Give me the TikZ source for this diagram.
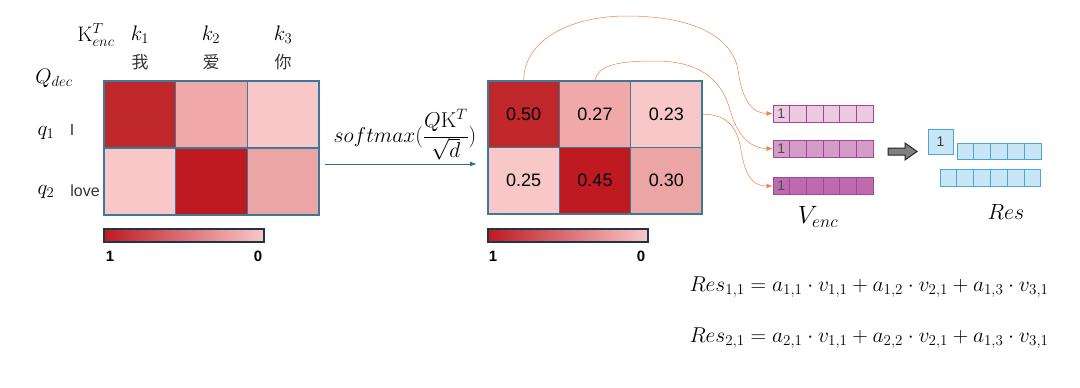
\RequirePackage{fix-cm}
\documentclass[tikz,border=0pt]{standalone}
\usepackage{fontspec}
\usetikzlibrary{arrows.meta}
\newfontfamily\arial{Liberation Sans}
\newfontfamily\cjk{Noto Sans CJK SC}
\definecolor{dra}{HTML}{C0272B}
\definecolor{drb}{HTML}{BF1A22}
\definecolor{pka}{HTML}{F1A8A8}
\definecolor{pkb}{HTML}{F8C8C9}
\definecolor{pkc}{HTML}{EBA5A5}
\definecolor{gridb}{HTML}{3E7899}
\definecolor{arrb}{HTML}{2F6F96}
\definecolor{cbb}{HTML}{1F3444}
\definecolor{orng}{HTML}{EE8148}
\definecolor{vb}{HTML}{A1479B}
\definecolor{vfa}{HTML}{EBC9E1}
\definecolor{vfb}{HTML}{D69CC8}
\definecolor{vfc}{HTML}{BD6BAD}
\definecolor{rb}{HTML}{4AA6D6}
\definecolor{rf}{HTML}{C8E6F5}
\begin{document}
\begin{tikzpicture}[x=1pt,y=-1pt,
  cellL/.style={draw=gridb, line width=1.2pt, minimum width=71.67pt, minimum height=67pt, inner sep=0pt},
  cellR/.style={draw=gridb, line width=1.2pt, minimum width=71.33pt, minimum height=66.5pt, inner sep=0pt, font=\arial\fontsize{18}{20}\selectfont},
  cbar/.style={draw=cbb, line width=1.5pt, minimum width=160pt, minimum height=13pt, inner sep=0pt, left color=drb, right color=pkb},
  cblab/.style={font=\arial\bfseries\fontsize{15}{17}\selectfont},
  mlab/.style={font=\fontsize{21}{24}\selectfont},
  zh/.style={font=\cjk\fontsize{17}{19}\selectfont, text=black!80},
  wlab/.style={font=\arial\fontsize{16}{18}\selectfont, text=black!80},
  vcell/.style={draw=vb, line width=1pt, minimum width=16.67pt, minimum height=17pt, inner sep=0pt, font=\arial\fontsize{14}{15}\selectfont, text=black!70},
  rcell/.style={draw=rb, line width=1pt, inner sep=0pt, fill=rf, font=\arial\fontsize{14}{15}\selectfont, text=black!75},
  curve/.style={draw=orng, line width=0.5pt, -{Latex[length=6pt,width=5pt]}},
  eq/.style={anchor=west, font=\fontsize{21.5}{24}\selectfont}
]
\useasboundingbox (0,0) rectangle (1080,388);
% left matrix
\foreach \r/\c/\col in {1/1/dra,1/2/pka,1/3/pkb,2/1/pkb,2/2/drb,2/3/pkc}{
  \node[cellL, fill=\col] (L-\r-\c) at ({104+71.67*(\c-0.5)},{81+67*(\r-0.5)}) {};
}
% right matrix
\foreach \r/\c/\col/\v in {1/1/dra/0.50,1/2/pka/0.27,1/3/pkb/0.23,2/1/pkb/0.25,2/2/drb/0.45,2/3/pkc/0.30}{
  \node[cellR, fill=\col] (R-\r-\c) at ({488+71.33*(\c-0.5)},{81+66.5*(\r-0.5)}) {\v};
}
% colour bars
\node[cbar] (cb1) at (184,235.5) {};
\node[cblab] (cb1a) at (110,256) {1};
\node[cblab] (cb1b) at (258,256) {0};
\node[cbar] (cb2) at (568,235.5) {};
\node[cblab] (cb2a) at (493,256) {1};
\node[cblab] (cb2b) at (641,256) {0};
% labels left
\node[mlab] (kt) at (96,35) {$\mathrm{K}_{enc}^{T}$};
\node[mlab] (k1) at (140,35) {$k_1$};
\node[mlab] (k2) at (211,35) {$k_2$};
\node[mlab] (k3) at (283,35) {$k_3$};
\node[zh] (z1) at (140,62) {我};
\node[zh] (z2) at (211,62) {爱};
\node[zh] (z3) at (283,62) {你};
\node[mlab] (qd) at (54,78) {$Q_{dec}$};
\node[mlab] (q1) at (46,133) {$q_1$};
\node[wlab] (w1) at (72,130) {I};
\node[mlab] (q2) at (46,192) {$q_2$};
\node[wlab] (w2) at (85,191) {love};
% softmax arrow
\coordinate (a0) at (325,164);
\coordinate (a1) at (477,164);
\draw[arrb, line width=1pt, -{Latex[length=7pt,width=5pt]}] (a0) -- (a1);
\node[mlab, font=\fontsize{21.5}{24}\selectfont] (sm) at (405,135) {$\displaystyle softmax(\frac{Q\mathrm{K}^T}{\sqrt{d}})$};
% value vectors
\foreach \r/\y/\col in {1/113.5/vfa,2/148.5/vfb,3/186/vfc}{
  \node[vcell, fill=\col] (V\r-1) at ({773+16.67*0.5},\y) {1};
  \foreach \c in {2,...,6}{
    \node[vcell, fill=\col] (V\r-\c) at ({773+16.67*(\c-0.5)},\y) {};
  }
}
% curved connectors
\draw[curve] (R-1-1.north) .. controls (524,40) and (570,16) .. (627,16)
   .. controls (690,16) and (732,35) .. (738,70)
   .. controls (742,100) and (752,113.5) .. (V1-1.west);
\draw[curve] (R-1-2.north) .. controls (598,66) and (615,61) .. (655,61)
   .. controls (700,61) and (722,80) .. (730,110)
   .. controls (737,135) and (750,148.5) .. (V2-1.west);
\draw[curve] (R-1-3.east) .. controls (725,114) and (737,125) .. (741,150)
   .. controls (745,175) and (752,186) .. (V3-1.west);
% block arrow
\draw[fill=black!50, draw=black!85, line width=1pt] (888,148)--(905,148)--(905,143)--(917,151.5)--(905,160)--(905,155)--(888,155)--cycle;
% result
\node[rcell, minimum size=25pt] (S0) at (940.5,141.5) {1};
\foreach \c in {1,...,5}{
  \node[rcell, minimum width=16.8pt, minimum height=16pt] (S1-\c) at ({957+16.8*(\c-0.5)},151) {};
}
\foreach \c in {1,...,6}{
  \node[rcell, minimum width=16.83pt, minimum height=17pt] (S2-\c) at ({940+16.83*(\c-0.5)},177.5) {};
}
\node[font=\fontsize{25}{28}\selectfont] (venc) at (818,217) {$V_{enc}$};
\node[font=\fontsize{22}{26}\selectfont] (res) at (1006,212) {$Res$};
% equations
\node[eq] (eq1) at (686,287) {$Res_{1,1} = a_{1,1}\cdot v_{1,1} + a_{1,2}\cdot v_{2,1} + a_{1,3}\cdot v_{3,1}$};
\node[eq] (eq2) at (686,338) {$Res_{2,1} = a_{2,1}\cdot v_{1,1} + a_{2,2}\cdot v_{2,1} + a_{1,3}\cdot v_{3,1}$};
\end{tikzpicture}
\end{document}
